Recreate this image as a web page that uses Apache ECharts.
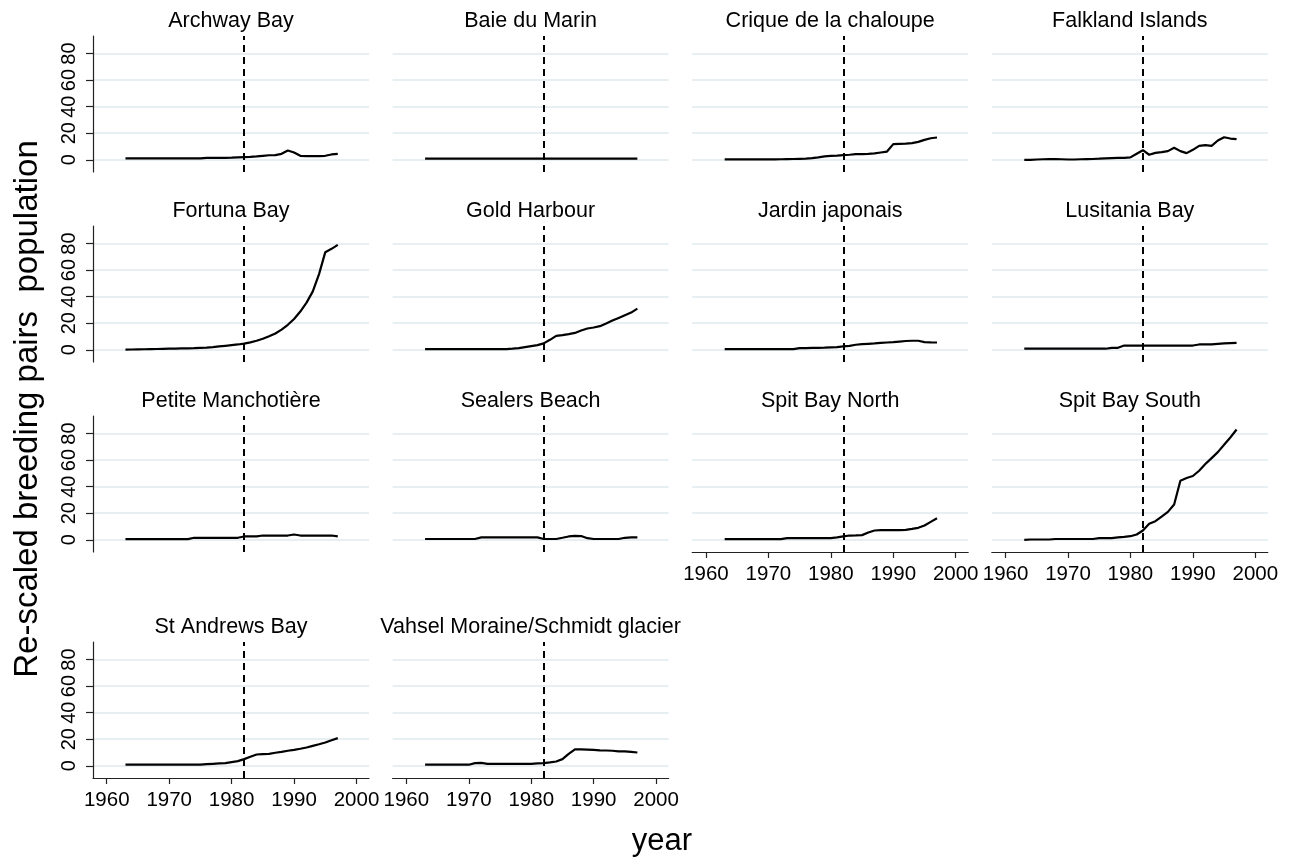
<!DOCTYPE html>
<html>
<head>
<meta charset="utf-8">
<script src="https://cdn.jsdelivr.net/npm/echarts@6/dist/echarts.min.js"></script>
<style>
html,body{margin:0;padding:0;background:#fff;}
#chart{width:1289px;height:859px;}
</style>
</head>
<body>
<div id="chart"></div>
<script>
// ---------------- DATA ----------------
const years = [1963,1964,1965,1966,1967,1968,1969,1970,1971,1972,1973,1974,1975,1976,1977,1978,1979,1980,
               1981,1982,1983,1984,1985,1986,1987,1988,1989,1990,1991,1992,1993,1994,1995,1996,1997];

const siteNames = ["Archway Bay","Baie du Marin","Crique de la chaloupe","Falkland Islands",
                   "Fortuna Bay","Gold Harbour","Jardin japonais","Lusitania Bay",
                   "Petite Manchotière","Sealers Beach","Spit Bay North","Spit Bay South",
                   "St Andrews Bay","Vahsel Moraine/Schmidt glacier"];

const archwayBay   = [1,1,1,1,1,1,1,1,1,1,1,1,1, 1.5,1.5,1.5,1.5,1.6,1.8,
                      2,2.2,2.5,3,3.4,3.5,4.5,7,5.5,3,2.8,2.8,2.8,3,4,4.5];
const baieDuMarin  = [0.8,0.8,0.8,0.8,0.8,0.8,0.8,0.8,0.8,0.8,0.8,0.8,0.8,0.8,0.8,0.8,0.8,0.8,
                      0.8,0.8,0.8,0.8,0.8,0.8,0.8,0.8,0.8,0.8,0.8,0.8,0.8,0.8,0.8,0.8,0.8];
const criqueChaloupe = [0.3,0.3,0.3,0.3,0.3,0.3,0.3,0.3,0.3,
                      0.4,0.5,0.6,0.7,0.8,1.2,1.8,2.5,3,3.2,
                      3.5,3.8,4.2,4.3,4.5,4.8,5.5,6.2,11.8,12,12.2,12.5,13.5,15,16.2,16.8];
const falklandIslands = [0,0,0.2,0.4,0.5,0.5,0.4,0.2,0.2,0.4,0.5,0.6,0.8,1.1,1.3,1.4,1.5,1.8,
                      4.5,7.2,3.8,5.2,5.8,6.5,9,6.5,5,7.5,10.5,11,10.5,14.5,17,16,15.5];
const fortunaBay   = [0.1,0.2,0.3,0.4,0.5,0.6,0.7,0.8,0.9,1.0,1.1,1.2,1.4,1.6,2.0,2.5,3.0,3.5,4.0,
                      4.6,5.6,6.8,8.3,10.2,12.3,15.2,18.8,23.2,28.8,35.5,44,57,73.5,76,79];
const goldHarbour  = [0.5,0.5,0.5,0.5,0.5,0.5,0.5,0.5,0.5,0.5,0.5,0.5,0.5,0.5,
                      0.8,1.2,2,2.8,3.5,4.8,7.5,10.5,11,11.8,12.7,14.5,16,16.8,17.8,19.8,22,24,26,28,31];
const jardinJaponais = [0.5,0.5,0.5,0.5,0.5,0.5,0.5,0.5,0.5,0.5,0.5,0.5,
                      1.2,1.3,1.4,1.5,1.6,1.8,2.0,
                      2.5,3,3.8,4.2,4.5,4.8,5.2,5.5,5.8,6.2,6.6,6.8,6.8,5.8,5.6,5.5];
const lusitaniaBay = [0.8,0.8,0.8,0.8,0.8,0.8,0.8,0.8,0.8,0.8,0.8,0.8,0.8,0.8,
                      1.5,1.5, 3.2,3.2,3.2,3.2,3.2,3.2,3.2,3.2,3.2,3.2,3.2,3.2,
                      4,4,4, 4.5,4.8,5,5.2];
const petiteManchotiere = [0.5,0.5,0.5,0.5,0.5,0.5,0.5,0.5,0.5,0.5,0.5,
                      1.5,1.5,1.5,1.5,1.5,1.5,1.5,1.5,
                      2.5,2.5,2.5, 3.2,3.2,3.2,3.2,3.2, 4, 3.2,3.2,3.2,3.2,3.2,3.2, 2.5];
const sealersBeach = [0.6,0.6,0.6,0.6,0.6,0.6,0.6,0.6,0.6,
                      1.8,1.8,1.8,1.8,1.8,1.8,1.8,1.8,1.8,1.8,
                      0.6,0.6,0.6, 1.5,2.5,3,2.8, 1.2,0.6,0.6,0.6,0.6,0.6, 1.5,1.8,1.8];
const spitBayNorth = [0.5,0.5,0.5,0.5,0.5,0.5,0.5,0.5,0.5,0.5,
                      1.2,1.2,1.2,1.2,1.2,1.2,1.2,1.2,
                      1.8,2.5,3.2,3.3,3.5,5.5,7,7.2,7.2,7.2,7.3,7.5,8.2,9,10.8,13.5,16.2];
const spitBaySouth = [0,0.2,0.2,0.2,0.2,0.6,0.6,0.6,0.6,0.6,0.6,0.6,1.2,1.2,1.2,
                      1.8,2.2,2.7,4,7,12,14,17.5,21,26.5,44.5,46.5,48,52,57,61.5,66,71.5,77,83];
const stAndrewsBay = [0.8,0.8,0.8,0.8,0.8,0.8,0.8,0.8,0.8,0.8,0.8,0.8,0.8,
                      1.2,1.5,1.8,2,2.8,3.5,5,6.8,8.5,8.8,9,9.8,10.5,11.3,12,12.8,13.8,15,16.2,17.5,19.2,20.8];
const vahselMoraine = [0.8,0.8,0.8,0.8,0.8,0.8,0.8,0.8,
                      2,2.2,1.5,1.5,1.5,1.5,1.5,1.5,1.5,
                      1.5,1.8,2,2.5,3.2,5,9,12.3,12.3,12.2,12,11.6,11.5,11.3,10.8,10.8,10.5,10];

const siteValues = [archwayBay, baieDuMarin, criqueChaloupe, falklandIslands,
                    fortunaBay, goldHarbour, jardinJaponais, lusitaniaBay,
                    petiteManchotiere, sealersBeach, spitBayNorth, spitBaySouth,
                    stAndrewsBay, vahselMoraine];

const xTickValues = [1960,1970,1980,1990,2000];
const yTickValues = [0,20,40,60,80];
const cutoffYear = 1982;
const yAxisTitle = "Re-scaled breeding pairs  population";
const xAxisTitle = "year";

// ---------------- LAYOUT ----------------
const FONT = '"Liberation Sans", Arial, Helvetica, sans-serif';
const colLeft = [93, 392.6, 692.2, 991.8];
const rowTop = [36, 226, 416, 642];
const plotW = 276, plotH = 136;
const xMin = 1957.8, xMax = 2002;
const yMin = -9.2, yMax = 93.2;
const axisColor = '#222';

const chart = echarts.init(document.getElementById('chart'), null, {renderer: 'canvas'});

const grids = [], xAxes = [], yAxes = [], series = [], graphics = [];

siteNames.forEach((name, i) => {
  const r = Math.floor(i / 4), c = i % 4;
  const showX = i >= 10;
  const showY = c === 0;
  grids.push({left: colLeft[c], top: rowTop[r], width: plotW, height: plotH,
              containLabel: false, outerBoundsMode: 'none'});
  xAxes.push({
    type: 'value', gridIndex: i, min: xMin, max: xMax,
    axisLine: {show: showX, onZero: false, lineStyle: {color: axisColor, width: 1.2}},
    axisTick: {show: showX, length: 6, customValues: xTickValues, lineStyle: {color: axisColor, width: 1.2}},
    axisLabel: {show: showX, customValues: xTickValues, margin: 12, fontSize: 20.5,
                fontFamily: FONT, color: '#000', formatter: v => String(v)},
    splitLine: {show: false}
  });
  yAxes.push({
    type: 'value', gridIndex: i, min: yMin, max: yMax,
    axisLine: {show: showY, onZero: false, lineStyle: {color: axisColor, width: 1.2}},
    axisTick: {show: showY, length: 7, customValues: yTickValues, lineStyle: {color: axisColor, width: 1.2}},
    axisLabel: {show: showY, customValues: yTickValues, rotate: 90, margin: 14, fontSize: 20,
                fontFamily: FONT, color: '#000', formatter: v => String(v)},
    splitLine: {show: true, lineStyle: {color: '#e8eff3', width: 2}}
  });
  series.push({
    type: 'line', name: name, xAxisIndex: i, yAxisIndex: i,
    data: years.map((yr, k) => [yr, siteValues[i][k]]),
    showSymbol: false, symbol: 'none', animation: false,
    lineStyle: {color: '#000', width: 2.2},
    markLine: {
      silent: true, symbol: ['none', 'none'], animation: false,
      label: {show: false},
      lineStyle: {color: '#000', type: [7, 5], width: 2},
      data: [{xAxis: cutoffYear}]
    }
  });
  graphics.push({
    type: 'text', x: colLeft[c] + plotW / 2, y: rowTop[r] - 15, silent: true,
    style: {text: name, font: '21.5px ' + FONT, textAlign: 'center', textVerticalAlign: 'middle', fill: '#000'}
  });
});

graphics.push({
  type: 'text', x: 28, y: 409, rotation: Math.PI / 2, silent: true,
  style: {text: yAxisTitle, font: '33px ' + FONT, textAlign: 'center', textVerticalAlign: 'middle', fill: '#000'}
});
graphics.push({
  type: 'text', x: 662, y: 841, silent: true,
  style: {text: xAxisTitle, font: '31px ' + FONT, textAlign: 'center', textVerticalAlign: 'middle', fill: '#000'}
});

chart.setOption({
  backgroundColor: '#fff',
  animation: false,
  grid: grids,
  xAxis: xAxes,
  yAxis: yAxes,
  series: series,
  graphic: graphics
});
</script>
</body>
</html>
